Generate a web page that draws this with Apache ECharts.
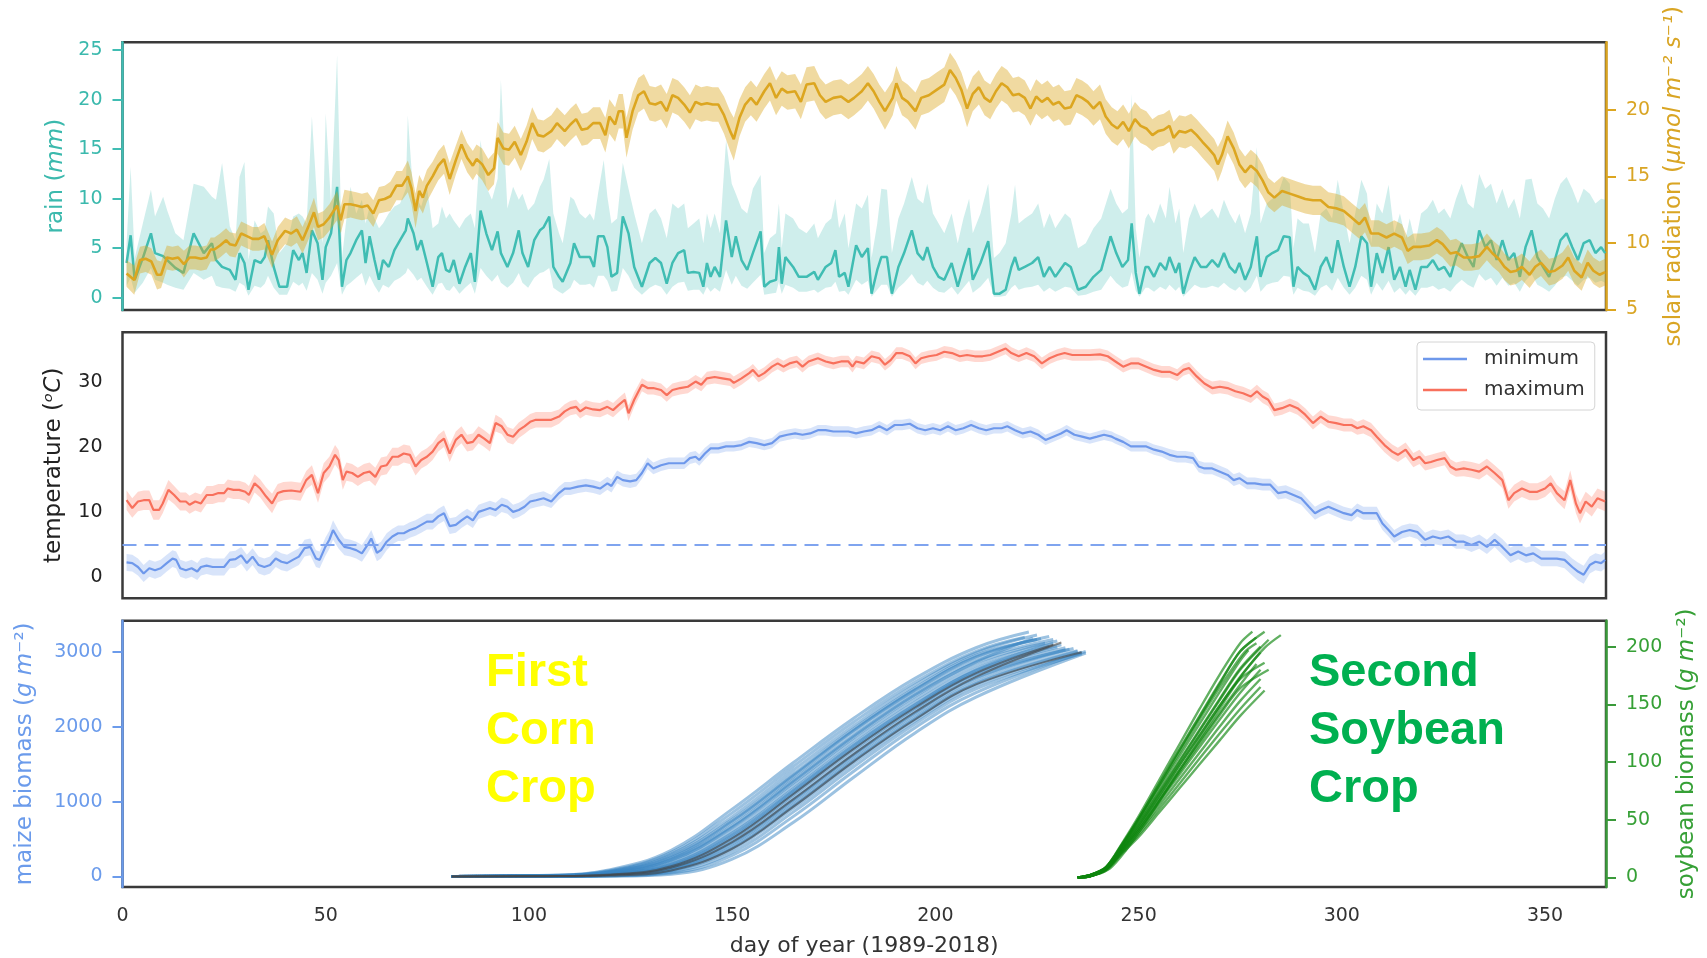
<!DOCTYPE html>
<html><head><meta charset="utf-8">
<script src="https://cdn.jsdelivr.net/npm/echarts/dist/echarts.min.js"></script>
<style>html,body{margin:0;padding:0;background:#fff}#c{width:1707px;height:958px}</style>
</head><body><div id="c"></div>
<script>
// ---------- tick labels ----------
const xTicks = [0, 50, 100, 150, 200, 250, 300, 350];
const rainTicks = [0, 5, 10, 15, 20, 25];
const solarTicks = [5, 10, 15, 20];
const tempTicks = [0, 10, 20, 30];
const maizeTicks = [0, 1000, 2000, 3000];
const soyTicks = [0, 50, 100, 150, 200];
const frostLine = 5;

// ---------- rain: [day, mean, lower, upper] (mm) ----------
const rainData = [
[1,3.5,1.2,5.5],[2,6.3,2.0,13.2],[3,1.8,0.5,4.0],[5,4.0,1.5,7.5],[7,6.5,3.0,10.9],[8,4.5,1.8,8.2],[10,4.2,1.5,10.2],[11,3.8,1.3,8.8],[13,3.0,1.0,6.5],[15,2.5,0.8,5.8],
[17.5,6.5,2.5,11.5],[20,4.5,1.8,11.2],[22,5.5,2.2,10.2],[23,3.8,1.2,9.9],[24.5,3.1,1.0,13.6],[26.4,2.8,0.9,7.2],[27.8,1.8,0.6,5.8],[28.8,4.5,1.5,12.2],[30,3.5,1.2,13.7],[31,0.8,0.2,3.8],
[32.5,3.8,1.2,7.8],[34,3.5,1.0,6.5],[35,4.1,1.4,6.8],[35.8,5.8,2.2,9.2],[37.2,3.1,1.0,8.5],[38.6,1.1,0.3,4.5],[40.5,1.1,0.3,5.5],[42,4.8,1.6,8.2],[43.4,3.8,1.2,8.5],[44.3,4.5,1.5,8.2],
[45.3,2.5,0.7,7.5],[46.6,6.8,2.5,18.3],[48,5.5,1.8,9.0],[49.2,1.8,0.4,5.5],[50,5.1,1.5,18.6],[51.3,6.5,2.2,9.5],[52.8,11.2,3.5,24.5],[54,1.1,0.3,4.0],[55.1,3.8,1.2,8.0],[56.1,4.5,1.5,11.2],
[57.5,5.8,2.0,8.5],[58.9,6.8,2.5,9.9],[59.8,3.5,1.2,7.5],[60.8,6.2,2.2,9.2],[62,3.8,1.2,8.0],[63.1,1.8,0.5,7.0],[64.1,3.8,1.3,7.5],[65.5,3.1,1.0,8.5],[66.9,4.8,1.7,9.2],[68.3,5.8,2.0,9.5],
[69.7,6.8,2.5,11.0],[70.2,8.0,3.0,18.4],[71.6,6.5,2.3,10.0],[72.5,4.8,1.7,9.9],[73.5,5.8,2.0,9.2],[74.9,3.5,1.1,11.2],[76.3,1.1,0.3,7.0],[77.7,4.1,1.4,7.5],[78.6,4.5,1.5,9.2],[79.6,2.8,0.8,8.0],
[80.5,2.6,0.7,8.5],[81.5,3.8,1.2,7.8],[82.9,1.4,0.4,7.0],[84.3,3.1,1.0,8.0],[85.7,4.5,1.5,8.5],[86.7,1.6,0.4,7.0],[88.1,8.8,3.0,15.9],[89.5,6.5,2.2,11.2],[90.9,4.8,1.6,9.9],[92.3,6.7,2.3,12.0],
[93.1,4.5,1.5,22.0],[94.7,3.1,1.0,9.0],[96.1,4.5,1.5,11.2],[97.5,6.8,2.5,9.9],[98.4,4.5,1.5,10.5],[99.8,3.1,1.0,8.8],[101.3,5.8,2.0,9.5],[102.7,6.8,2.5,11.2],[103.6,7.1,2.6,11.9],[105.0,8.2,3.0,14.0],
[106.0,3.1,1.0,8.5],[107.4,2.1,0.6,6.5],[108.3,1.6,0.4,5.5],[110.2,3.5,1.0,10.2],[111.1,5.5,1.8,9.9],[112.5,4.1,1.3,8.5],[113.9,4.1,1.3,8.0],[115.0,4.1,1.4,8.5],[116.0,3.1,1.0,7.8],[117.0,6.2,2.2,10.5],
[118.4,6.2,2.2,13.9],[119.3,5.1,1.7,10.2],[120.3,2.1,0.6,7.5],[121.7,2.5,0.7,8.0],[123.1,8.2,3.0,13.6],[124.5,6.5,2.2,11.0],[125.9,3.1,1.0,8.5],[127.8,1.1,0.3,5.5],[129.7,3.5,1.0,8.5],[131.1,4.0,1.3,9.0],
[132.5,3.5,1.1,8.0],[133.9,1.4,0.3,6.0],[135.3,3.5,1.1,9.5],[136.7,4.5,1.5,9.0],[138.2,4.8,1.6,9.5],[139.1,2.5,0.7,7.0],[140.5,2.6,0.8,7.5],[141.9,2.5,0.8,8.0],[142.9,1.1,0.3,5.5],[143.8,3.5,1.1,8.5],
[144.7,2.1,0.6,7.0],[145.7,3.1,1.0,8.5],[147.0,2.1,0.6,6.5],[148.5,7.8,2.8,15.9],[149.9,4.1,1.3,11.5],[150.9,6.2,2.2,10.5],[152.3,3.8,1.2,9.0],[153.7,2.8,0.9,8.5],[155.1,4.5,1.5,11.0],[157.0,6.7,2.3,12.4],
[157.9,1.1,0.3,4.5],[159.3,1.6,0.4,6.0],[160.8,1.8,0.5,6.5],[161.5,5.1,1.6,9.5],[162.2,1.4,0.4,5.0],[163.1,4.1,1.3,8.5],[165,3.1,1.0,8.0],[166.4,2.1,0.6,7.0],[168.3,2.1,0.6,6.5],[170.2,2.6,0.8,7.5],
[171.1,1.8,0.5,6.0],[173.0,3.1,1.0,7.5],[174.4,3.5,1.1,8.0],[175.4,4.8,1.6,10.0],[176.3,2.1,0.6,7.0],[177.7,2.5,0.7,8.5],[178.6,1.1,0.3,5.0],[180.5,5.3,1.8,9.5],[181.9,4.1,1.3,9.0],[183.4,5.0,1.7,10.4],
[184.3,0.4,0.1,4.0],[185.7,2.8,0.8,7.5],[186.7,4.1,1.3,11.0],[188.1,4.1,1.3,10.9],[189.3,0.4,0.1,4.5],[190.9,3.1,1.0,8.0],[192.3,4.5,1.5,9.5],[194.2,6.8,2.4,12.2],[195.6,4.5,1.5,10.0],[197.0,3.8,1.2,9.5],
[198.0,5.1,1.7,11.5],[199.4,3.1,1.0,8.5],[200.8,2.1,0.6,7.5],[202.2,1.8,0.5,6.5],[204.0,3.5,1.1,8.5],[205.5,1.1,0.3,5.5],[206.9,3.1,1.0,8.0],[208.3,5.0,1.7,10.0],[209.2,1.8,0.5,6.5],[211.1,3.5,1.1,8.5],
[213.0,5.7,2.0,11.5],[214.4,0.4,0.1,4.0],[215.8,0.4,0.1,4.5],[217.3,0.8,0.2,5.5],[218.7,3.1,1.0,8.5],[219.6,4.1,1.3,11.4],[220.5,2.8,0.8,7.5],[222.0,3.1,1.0,8.0],[223.8,3.5,1.1,8.5],[225.3,4.1,1.3,9.5],
[226.7,2.1,0.6,7.0],[228.1,3.1,1.0,8.5],[229.5,2.1,0.6,7.0],[231.9,3.5,1.1,8.5],[233.3,3.1,1.0,8.0],[235.1,0.8,0.2,5.0],[237.0,1.1,0.3,5.5],[238.9,2.1,0.6,7.0],[240.8,2.8,0.8,8.0],[243.1,6.2,2.2,11.0],
[244.5,4.5,1.5,9.5],[246.0,3.1,1.0,8.5],[247.4,3.8,1.2,9.0],[248.3,7.5,2.6,20.6],[249.3,2.5,0.7,7.0],[250.2,0.4,0.1,4.0],[251.7,3.1,1.0,8.0],[252.4,3.1,1.0,8.5],[253.8,2.1,0.6,7.5],[255.3,3.5,1.1,9.5],
[256.7,2.8,0.8,8.0],[257.6,4.1,1.3,11.2],[259.1,2.5,0.7,7.5],[260.0,3.5,1.1,9.0],[261.0,0.4,0.1,4.5],[262.4,2.5,0.7,8.0],[263.8,4.1,1.3,9.5],[265.3,3.1,1.0,8.0],[266.7,3.1,1.0,8.5],[268.1,3.8,1.2,9.0],
[269.6,3.1,1.0,8.0],[271.0,4.5,1.5,9.9],[272.4,3.1,1.0,8.5],[273.8,2.5,0.7,7.5],[274.8,3.5,1.1,8.5],[276.2,1.8,0.5,6.5],[277.6,3.1,1.0,8.5],[279.1,6.2,2.2,15.2],[280.0,2.1,0.6,7.5],[281.5,4.1,1.3,9.5],
[282.9,4.5,1.5,10.0],[284.3,4.8,1.6,10.5],[285.7,6.2,2.2,12.2],[287.2,6.1,2.1,11.5],[288.1,1.1,0.3,5.0],[289.1,3.1,1.0,8.0],[290.5,2.5,0.7,7.5],[291.9,2.1,0.6,7.5],[293.4,0.8,0.2,4.5],[294.8,3.1,1.0,8.5],
[296.2,4.1,1.3,9.0],[297.6,2.5,0.7,8.0],[299.0,5.8,2.0,11.9],[300.5,3.1,1.0,8.5],[301.9,1.1,0.3,5.5],[303.3,3.1,1.0,8.5],[304.8,6.2,2.2,11.9],[306.2,5.5,1.8,10.5],[307.2,1.1,0.3,5.5],[308.6,4.5,1.5,9.5],
[310.0,2.5,0.7,8.5],[311.5,5.1,1.7,11.4],[312.9,1.8,0.5,6.5],[314.3,3.1,1.0,8.5],[315.7,1.1,0.3,6.0],[316.7,2.8,0.8,8.0],[318.1,0.8,0.2,5.5],[319.5,3.1,1.0,8.5],[321.0,3.1,1.0,9.0],[322.4,3.8,1.2,9.9],
[323.8,2.8,0.8,8.5],[325.2,3.1,1.0,9.0],[326.7,2.1,0.6,8.0],[328.1,4.1,1.3,10.0],[329.5,5.5,1.8,11.5],[331.0,4.1,1.3,9.5],[332.4,3.1,1.0,9.0],[333.8,6.8,2.4,12.5],[335.3,5.1,1.7,11.0],[336.7,5.8,2.0,11.5],
[338.1,3.8,1.2,9.5],[339.5,5.8,2.0,11.0],[341.0,3.8,1.2,9.0],[342.4,4.5,1.5,10.0],[343.8,2.1,0.6,8.0],[345.2,5.1,1.7,11.9],[346.7,6.8,2.4,12.0],[348.1,4.1,1.3,9.5],[349.5,3.1,1.0,9.0],[351.0,2.1,0.6,8.0],
[352.4,3.8,1.2,10.0],[353.8,5.8,2.0,11.5],[355.3,6.5,2.2,12.2],[356.7,5.1,1.7,11.0],[358.1,3.8,1.2,9.5],[359.5,5.5,1.8,11.0],[361.0,5.8,2.0,10.5],[362.4,4.5,1.5,9.5],[363.8,5.1,1.7,10.0],[364.8,4.5,1.5,9.9]
];

// ---------- solar radiation: [day, mean, half band width] ----------
const solarData = [
[1,7.7,1.0],[2.9,7.2,1.1],[4.3,8.7,1.0],[5.7,8.8,1.0],[7.1,8.6,1.0],[8.5,7.6,1.1],[9.5,7.6,1.0],[10.9,8.9,0.9],[12.3,8.8,0.9],[13.7,8.9,0.9],
[15.1,8.4,1.0],[16.5,8.9,0.9],[17.9,8.9,0.9],[19.3,8.8,0.9],[20.7,8.9,0.9],[21.7,9.5,0.9],[22.6,9.5,0.9],[24.0,9.8,0.9],[25.5,10.2,0.9],[26.4,9.9,0.9],
[27.8,9.8,0.9],[29.2,10.7,0.9],[30.6,10.5,0.9],[32.0,10.3,0.9],[33.5,10.3,0.9],[34.9,10.5,1.0],[36.8,9.1,1.0],[38.2,10.2,1.0],[40.0,10.9,1.0],[41.5,10.7,1.0],
[42.9,11.0,1.0],[44.3,10.2,1.0],[45.7,11.2,1.0],[47.1,12.3,1.1],[48.1,11.2,1.0],[49.5,11.4,1.0],[50.9,11.9,1.0],[52.8,12.8,1.1],[53.7,11.7,1.0],[54.6,12.9,1.1],
[56.1,12.9,1.0],[57.5,12.8,1.0],[58.9,12.7,1.0],[60.3,12.8,1.0],[61.7,12.2,1.0],[63.1,13.2,1.0],[64.5,13.3,1.0],[65.9,13.5,1.1],[67.4,14.3,1.1],[68.8,14.3,1.1],
[70.2,15.0,1.2],[71.1,14.1,1.2],[72.1,12.4,1.3],[73.0,13.9,1.2],[73.9,13.4,1.2],[74.9,14.3,1.2],[76.3,15.0,1.1],[77.7,15.8,1.1],[79.1,16.3,1.1],[80.5,14.8,1.2],
[82.0,16.2,1.1],[83.4,17.4,1.1],[84.8,16.4,1.1],[86.2,15.8,1.1],[87.1,16.3,1.1],[88.5,15.9,1.2],[90.0,15.1,1.2],[91.4,15.6,1.2],[92.3,17.9,1.2],[93.7,17.1,1.2],
[95.1,17.0,1.2],[96.5,17.6,1.2],[98.0,16.6,1.2],[99.4,17.6,1.2],[100.8,19.0,1.2],[102.2,18.1,1.2],[103.6,18.0,1.2],[105.5,18.4,1.2],[106.9,19.0,1.2],[108.8,18.4,1.2],
[110.2,18.9,1.2],[111.6,19.3,1.2],[113.0,18.5,1.2],[114.4,18.6,1.2],[115.8,19.0,1.2],[117.5,19.0,1.2],[118.8,18.1,1.3],[119.8,19.5,1.3],[121.2,18.9,1.3],[122.1,19.9,1.3],
[123.1,19.9,1.3],[124.0,17.9,1.5],[125.5,19.9,1.4],[126.9,21.1,1.3],[128.3,21.4,1.3],[129.7,20.5,1.3],[131.1,20.4,1.3],[132.5,20.6,1.3],[133.9,19.9,1.3],[135.3,21.1,1.3],
[136.7,20.9,1.3],[138.2,20.4,1.3],[139.6,19.8,1.3],[141.0,20.6,1.3],[142.4,20.4,1.3],[143.8,20.5,1.3],[145.2,20.4,1.3],[146.6,20.4,1.3],[148.0,19.6,1.4],[149.5,18.4,1.5],
[150.4,17.8,1.6],[151.8,19.4,1.4],[153.2,20.4,1.3],[154.6,20.9,1.3],[156.0,20.4,1.3],[157.9,21.4,1.3],[159.3,22.0,1.3],[160.8,20.9,1.3],[162.2,21.6,1.3],[163.6,21.3,1.3],
[165.5,21.4,1.3],[166.9,20.6,1.3],[168.3,21.9,1.3],[170.2,22.0,1.3],[171.6,21.1,1.3],[173.0,20.6,1.3],[174.9,20.9,1.3],[176.8,21.0,1.3],[178.6,20.6,1.3],[180.0,20.9,1.3],
[181.9,21.4,1.3],[183.4,22.0,1.3],[184.8,21.4,1.3],[186.2,20.6,1.3],[187.6,19.9,1.4],[189.5,20.9,1.3],[190.4,22.0,1.3],[191.8,20.9,1.3],[193.2,20.6,1.3],[195.1,19.9,1.4],
[196.5,20.9,1.3],[198.4,21.1,1.3],[200.3,21.5,1.3],[202.2,21.9,1.3],[203.6,23.0,1.3],[205.0,22.4,1.3],[206.4,21.5,1.3],[207.8,20.1,1.4],[209.2,21.2,1.3],[210.7,21.7,1.3],
[212.1,20.9,1.3],[213.5,20.6,1.3],[214.9,21.4,1.3],[216.3,22.0,1.3],[217.7,21.7,1.3],[219.1,21.1,1.3],[220.5,21.2,1.3],[222.0,20.9,1.3],[223.4,20.1,1.3],[224.8,21.0,1.3],
[226.2,20.6,1.3],[227.6,20.9,1.3],[229.0,20.4,1.3],[230.4,20.6,1.3],[231.8,20.1,1.3],[233.3,20.2,1.3],[234.7,21.1,1.3],[236.1,20.9,1.3],[237.5,20.6,1.3],[238.9,20.1,1.3],
[240.5,20.6,1.3],[241.9,19.5,1.3],[243.4,18.9,1.3],[244.8,18.6,1.3],[246.2,19.1,1.3],[247.6,18.4,1.3],[249.1,19.3,1.3],[250.5,18.8,1.3],[251.9,18.6,1.3],[253.4,18.1,1.2],
[254.8,18.4,1.2],[256.2,18.5,1.2],[257.6,18.8,1.2],[258.6,17.9,1.2],[260.0,18.4,1.2],[261.5,18.3,1.2],[262.9,18.5,1.2],[264.3,18.1,1.2],[265.7,17.6,1.2],[267.2,17.1,1.2],
[268.6,16.6,1.2],[269.5,15.9,1.3],[270.5,16.6,1.2],[271.9,18.0,1.2],[273.4,17.1,1.2],[274.8,15.9,1.2],[276.2,15.3,1.2],[277.6,15.8,1.2],[279.1,15.4,1.2],[280.5,14.7,1.2],
[281.9,13.8,1.1],[283.4,13.4,1.1],[285.3,13.9,1.1],[287.2,13.7,1.1],[289.1,13.5,1.1],[291.0,13.3,1.1],[292.9,13.2,1.1],[294.8,13.2,1.1],[296.7,12.7,1.1],[298.6,12.6,1.1],
[300.5,12.4,1.1],[302.4,11.9,1.1],[304.3,11.4,1.1],[305.7,11.9,1.1],[307.2,10.7,1.0],[309.1,10.7,1.0],[311.0,10.4,1.0],[312.9,10.7,1.0],[314.8,10.4,1.0],[316.2,9.4,1.0],
[317.6,9.7,1.0],[319.5,9.7,1.0],[321.5,9.8,1.0],[323.4,10.2,1.0],[324.8,9.9,1.0],[326.7,9.2,1.0],[328.1,9.3,1.0],[330.0,8.9,1.0],[331.9,8.9,1.0],[333.8,9.0,1.0],
[335.7,9.7,1.0],[337.1,9.2,1.0],[338.6,8.8,1.0],[340.0,8.2,1.0],[341.5,7.8,1.0],[342.9,7.9,1.0],[344.3,8.2,1.0],[346.2,7.6,1.0],[347.6,8.2,1.0],[349.0,8.5,1.0],
[351.0,7.8,1.0],[352.4,7.9,1.0],[354.3,8.3,1.0],[355.7,8.9,1.0],[357.2,7.9,1.0],[359.0,7.4,1.0],[360.5,8.5,1.0],[361.9,7.9,1.0],[363.4,7.6,1.0],[364.8,7.8,1.0]
];

// ---------- maximum temperature: [day, mean, half band width] ----------
const tmaxData = [
[1,11.8,1.5],[2.4,10.6,1.5],[3.8,11.6,1.5],[5.2,11.8,1.5],[6.6,11.8,1.5],[7.6,10.3,1.5],[9.0,10.3,1.5],[9.9,11.3,1.5],[11.3,13.4,1.5],[12.7,12.6,1.4],
[14.2,11.6,1.4],[15.6,11.6,1.4],[16.5,11.1,1.4],[17.9,11.6,1.4],[19.3,11.3,1.4],[20.7,12.6,1.4],[22.2,12.6,1.4],[23.6,12.9,1.4],[25.0,12.9,1.4],[25.9,13.6,1.4],
[27.3,13.4,1.4],[28.7,13.4,1.4],[30.2,13.1,1.4],[31.1,12.6,1.4],[32.5,14.4,1.4],[33.9,13.6,1.4],[35.3,12.4,1.4],[36.8,11.3,1.5],[38.2,12.9,1.4],[39.6,13.2,1.4],
[41.5,13.3,1.4],[43.8,13.1,1.4],[45.2,14.9,1.4],[46.6,15.7,1.5],[48.1,12.9,1.5],[49.5,16.0,1.5],[50.9,17.0,1.5],[52.3,18.8,1.5],[53.2,18.0,1.5],[54.2,14.9,1.5],
[55.1,16.2,1.4],[56.5,16.0,1.4],[57.9,15.4,1.4],[59.4,16.0,1.4],[60.8,16.2,1.4],[62.2,15.4,1.4],[63.6,17.0,1.4],[65.0,17.2,1.4],[66.4,18.5,1.4],[67.8,18.5,1.4],
[69.2,19.0,1.4],[70.7,18.8,1.4],[72.1,17.0,1.4],[73.5,18.0,1.3],[74.9,18.5,1.3],[76.3,19.3,1.3],[77.7,20.6,1.3],[79.1,21.3,1.3],[80.5,19.0,1.3],[82.0,21.1,1.3],
[83.4,21.9,1.3],[84.8,20.6,1.3],[86.2,20.8,1.3],[87.6,21.9,1.3],[89.0,21.3,1.3],[90.4,20.6,1.3],[91.8,23.7,1.3],[93.3,23.2,1.2],[94.7,21.9,1.2],[96.1,21.6,1.2],
[97.5,22.6,1.2],[98.9,23.2,1.2],[100.3,23.9,1.2],[101.7,24.2,1.2],[103.6,24.2,1.2],[105.5,24.2,1.2],[107.4,24.7,1.1],[108.8,25.5,1.1],[110.2,26.0,1.1],[111.6,26.2,1.1],
[112.6,25.5,1.1],[114.0,26.1,1.1],[115.8,25.8,1.1],[117.5,25.7,1.1],[119.3,26.2,1.1],[120.7,25.7,1.1],[122.1,26.5,1.1],[123.6,27.3,1.1],[124.5,25.2,1.2],[125.9,27.3,1.1],
[127.8,29.6,1.0],[129.2,29.1,1.0],[130.6,29.1,1.0],[132.5,28.8,1.0],[133.9,28.0,1.0],[135.3,28.8,1.0],[137.2,29.1,1.0],[139.1,29.3,1.0],[141.0,30.1,1.0],[142.4,29.6,1.0],
[143.8,30.6,1.0],[145.7,30.8,1.0],[147.6,30.6,1.0],[149.5,30.4,1.0],[150.4,29.9,1.0],[152.3,30.6,1.0],[154.2,31.4,0.9],[155.1,31.9,0.9],[156.5,30.9,0.9],[157.9,31.4,0.9],
[159.8,32.4,0.9],[161.2,32.9,0.9],[162.6,32.4,0.9],[164.1,32.9,0.9],[165.9,33.2,0.9],[167.3,32.4,0.9],[168.8,33.2,0.9],[171.1,33.7,0.9],[173.0,33.2,0.9],[174.9,32.9,0.9],
[176.8,33.2,0.9],[178.6,33.2,0.9],[179.6,32.4,0.9],[180.5,33.2,0.9],[182.4,32.9,0.9],[184.3,34.0,0.9],[186.2,33.7,0.9],[187.6,32.7,0.9],[189.0,33.4,0.9],[190.4,34.5,0.9],
[191.8,34.5,0.9],[193.7,34.0,0.9],[195.1,32.9,0.9],[196.5,33.7,0.9],[198.4,34.0,0.9],[200.3,34.2,0.9],[202.2,34.7,0.9],[204.1,34.5,0.9],[206.0,34.0,0.9],[207.8,34.2,0.9],
[209.7,34.0,0.9],[211.6,34.0,0.9],[213.5,34.2,0.9],[215.4,34.7,0.9],[217.3,35.2,0.9],[218.7,34.5,0.9],[220.5,34.0,0.9],[222.4,34.5,0.9],[224.3,34.0,0.9],[226.2,32.9,0.9],
[228.1,33.7,0.9],[230.0,34.2,0.9],[231.8,34.5,0.9],[233.7,34.2,0.9],[235.6,34.2,0.9],[238.0,34.2,0.9],[240.5,34.3,0.9],[242.4,34.0,0.9],[244.3,33.2,0.9],[246.2,32.4,0.9],
[248.1,32.9,0.9],[250.0,32.9,0.9],[251.9,32.4,0.9],[253.8,31.9,0.9],[255.7,31.6,0.9],[257.6,31.6,0.9],[259.5,31.1,0.9],[261.0,31.9,0.9],[262.4,32.2,0.9],[264.3,30.9,0.9],
[266.2,29.8,0.9],[268.1,29.1,1.0],[270.0,29.3,1.0],[271.9,29.1,1.0],[273.8,28.6,1.0],[275.7,28.3,1.0],[277.6,27.8,1.0],[279.1,28.6,1.0],[280.5,27.8,1.0],[281.9,27.3,1.0],
[283.4,25.7,1.0],[285.3,26.0,1.0],[287.2,26.5,1.0],[289.1,26.0,1.0],[291.0,25.0,1.0],[292.9,23.7,1.0],[294.8,24.7,1.0],[296.7,23.9,1.0],[298.6,23.7,1.0],[300.5,23.4,1.0],
[302.4,23.4,1.0],[303.8,22.9,1.0],[305.3,23.2,1.1],[307.2,22.6,1.1],[308.6,21.6,1.1],[310.5,20.3,1.1],[312.4,19.3,1.1],[313.8,18.8,1.1],[315.7,19.6,1.1],[317.6,18.0,1.1],
[319.1,18.5,1.1],[320.5,17.5,1.1],[321.9,17.7,1.1],[323.4,18.0,1.1],[325.3,18.3,1.1],[326.7,17.0,1.1],[328.1,16.5,1.1],[330.0,16.7,1.2],[331.9,16.5,1.2],[333.8,16.2,1.2],
[335.7,17.0,1.2],[337.6,16.0,1.2],[339.5,14.9,1.2],[341.0,11.8,1.3],[342.4,12.9,1.3],[344.3,13.6,1.3],[346.2,13.1,1.3],[348.1,13.1,1.3],[350.0,13.6,1.3],[351.4,14.4,1.3],
[352.9,12.9,1.3],[354.8,11.8,1.4],[356.2,14.9,1.5],[357.6,11.3,1.5],[358.6,9.8,1.6],[360.0,11.6,1.5],[361.5,10.8,1.5],[362.9,12.1,1.5],[364.8,11.6,1.5]
];

// ---------- minimum temperature: [day, mean, half band width] ----------
const tminData = [
[1,2.2,1.3],[2.4,2.1,1.3],[3.8,1.5,1.3],[5.2,0.5,1.3],[6.6,1.3,1.3],[8.0,1.0,1.3],[9.4,1.3,1.3],[10.9,2.1,1.3],[12.3,2.8,1.3],[13.2,2.6,1.3],
[14.2,1.3,1.3],[15.6,1.0,1.3],[17.0,1.3,1.3],[18.4,0.8,1.3],[19.3,1.5,1.3],[20.7,1.7,1.3],[22.2,1.5,1.3],[23.6,1.5,1.3],[25.0,1.5,1.3],[26.4,2.6,1.3],
[27.8,2.7,1.3],[29.2,3.3,1.3],[30.6,2.1,1.3],[32.0,3.1,1.3],[33.5,1.8,1.3],[34.9,1.5,1.3],[36.3,1.8,1.3],[37.7,2.8,1.3],[39.1,2.3,1.3],[40.5,2.1,1.3],
[41.9,2.6,1.3],[43.4,3.1,1.3],[44.8,4.4,1.3],[46.2,4.6,1.3],[47.6,2.8,1.3],[48.5,2.6,1.3],[49.9,4.6,1.4],[50.9,5.7,1.4],[51.8,7.2,1.5],[53.2,5.7,1.4],
[54.6,4.6,1.3],[56.1,4.4,1.3],[57.5,4.1,1.3],[58.9,3.6,1.3],[60.3,4.9,1.3],[61.2,5.9,1.3],[62.6,3.7,1.3],[63.6,4.1,1.3],[65.0,5.4,1.3],[66.4,6.2,1.2],
[67.8,6.7,1.2],[69.2,6.7,1.2],[70.7,7.2,1.2],[72.1,7.5,1.2],[73.5,8.0,1.2],[74.9,8.5,1.2],[76.3,8.5,1.2],[77.7,9.3,1.2],[79.1,9.8,1.2],[80.5,7.8,1.2],
[82.0,8.0,1.2],[83.4,8.7,1.2],[84.8,9.3,1.2],[86.2,8.7,1.2],[87.6,10.0,1.1],[89.0,10.3,1.1],[90.4,10.6,1.1],[91.8,10.3,1.1],[93.3,11.1,1.1],[94.7,10.8,1.1],
[96.1,10.0,1.1],[97.5,10.3,1.1],[98.9,10.8,1.1],[100.3,11.6,1.1],[101.7,11.8,1.1],[103.6,12.1,1.1],[105.5,11.6,1.0],[107.4,12.9,1.0],[108.8,13.6,1.0],[110.2,13.6,1.0],
[112.1,13.9,1.0],[114.0,14.1,1.0],[115.8,13.9,1.0],[117.5,13.6,1.0],[119.3,14.4,1.0],[120.3,14.0,1.0],[121.7,15.4,1.0],[123.1,14.9,1.0],[124.9,14.7,1.0],[126.4,14.9,1.0],
[127.8,16.0,0.9],[129.2,17.5,0.9],[130.6,16.7,0.9],[132.5,17.2,0.9],[134.4,17.5,0.9],[136.3,17.5,0.9],[138.2,17.5,0.9],[139.6,18.3,0.9],[141.0,18.5,0.9],[141.9,18.0,0.9],
[143.3,19.0,0.9],[144.7,19.8,0.8],[146.6,19.8,0.8],[148.5,20.1,0.8],[150.4,20.1,0.8],[152.3,20.3,0.8],[154.2,20.8,0.8],[156.0,20.6,0.8],[157.9,20.3,0.8],[159.8,20.6,0.8],
[161.7,21.6,0.8],[163.6,21.9,0.8],[165.5,22.1,0.8],[167.3,21.9,0.8],[169.2,22.1,0.8],[171.1,22.6,0.8],[173.0,22.6,0.8],[174.9,22.4,0.8],[176.8,22.4,0.8],[178.6,22.4,0.8],
[180.5,22.1,0.8],[182.4,22.4,0.8],[184.3,22.6,0.8],[186.2,23.2,0.8],[188.1,22.6,0.8],[190.0,23.4,0.8],[191.8,23.4,0.8],[193.7,23.6,0.8],[195.6,22.9,0.8],[197.5,22.6,0.8],
[199.4,22.9,0.8],[201.2,22.6,0.8],[203.1,23.2,0.8],[205.0,22.6,0.8],[206.9,22.9,0.8],[208.8,23.4,0.8],[210.7,22.9,0.8],[212.5,22.6,0.8],[214.4,22.9,0.8],[216.3,22.9,0.8],
[217.7,23.2,0.8],[219.6,22.6,0.8],[221.5,22.1,0.8],[223.4,22.4,0.8],[225.3,21.9,0.8],[227.1,21.1,0.8],[229.0,21.6,0.8],[230.9,22.1,0.8],[232.3,22.6,0.8],[234.2,21.9,0.8],
[236.1,21.6,0.8],[238.0,21.3,0.8],[239.8,21.6,0.8],[241.5,21.9,0.8],[243.4,21.6,0.8],[244.3,21.3,0.8],[246.2,20.8,0.8],[248.1,20.1,0.8],[250.0,20.1,0.8],[251.9,20.1,0.8],
[253.8,19.6,0.8],[255.7,19.3,0.8],[257.6,18.8,0.9],[259.5,18.5,0.9],[261.5,18.5,0.9],[263.4,18.3,0.9],[264.8,17.0,0.9],[266.2,16.7,0.9],[268.1,16.7,0.9],[270.0,16.2,0.9],
[271.9,15.7,0.9],[273.4,14.9,0.9],[274.8,15.2,0.9],[276.7,14.4,0.9],[278.6,14.4,0.9],[280.5,14.2,0.9],[282.4,14.2,0.9],[284.3,12.9,1.0],[286.2,13.1,1.0],[288.1,12.6,1.0],
[290.0,12.1,1.0],[291.9,10.8,1.0],[293.4,9.8,1.0],[294.8,10.3,1.0],[296.7,10.8,1.0],[298.6,10.3,1.0],[300.5,9.8,1.0],[302.4,9.5,1.0],[303.8,10.3,1.0],[305.3,9.8,1.0],
[307.2,9.8,1.0],[308.6,9.8,1.0],[310.0,8.2,1.0],[311.5,7.2,1.0],[312.9,6.2,1.0],[314.8,6.9,1.0],[316.7,7.2,1.0],[318.6,6.9,1.1],[320.5,5.7,1.1],[322.4,6.2,1.1],
[324.3,5.9,1.1],[326.2,6.2,1.1],[328.1,5.4,1.1],[330.0,5.4,1.1],[331.9,4.9,1.1],[333.8,5.4,1.1],[335.7,4.6,1.1],[337.6,5.7,1.1],[339.5,4.6,1.2],[341.5,3.3,1.2],
[343.4,3.9,1.2],[345.3,3.3,1.2],[347.1,3.6,1.2],[349.1,2.8,1.2],[351.0,2.8,1.2],[352.9,2.8,1.2],[354.8,2.6,1.3],[356.7,1.5,1.3],[358.1,0.8,1.4],[359.5,0.3,1.4],
[361.0,1.8,1.3],[362.4,2.3,1.3],[363.8,2.1,1.3],[364.8,2.6,1.3]
];

// ---------- maize biomass curves (g m-2), one per season ----------
const maizeCurves = [
[[81,0],[105,15],[120,90],[135,350],[150,900],[165,1520],[180,2120],[195,2650],[210,3060],[223,3270]],
[[81,0],[105,12],[120,80],[135,320],[150,850],[165,1470],[180,2070],[195,2600],[210,3010],[222,3200]],
[[81,0],[105,10],[120,70],[135,300],[150,800],[165,1420],[180,2020],[195,2560],[210,2990],[225,3230]],
[[81,0],[105,10],[120,65],[135,280],[150,760],[165,1370],[180,1980],[195,2520],[210,2960],[226,3180]],
[[81,0],[105,8],[120,55],[135,250],[150,720],[165,1330],[180,1950],[195,2490],[210,2930],[228,3210]],
[[81,0],[105,8],[120,50],[135,230],[150,680],[165,1290],[180,1900],[195,2450],[210,2890],[229,3170]],
[[81,0],[105,6],[120,45],[135,210],[150,650],[165,1250],[180,1860],[195,2410],[210,2860],[227,3120]],
[[81,0],[105,6],[120,40],[135,190],[150,610],[165,1210],[180,1820],[195,2370],[210,2820],[230,3150]],
[[81,0],[105,5],[120,35],[135,170],[150,580],[165,1170],[180,1780],[195,2330],[210,2780],[228,3080]],
[[81,0],[105,5],[120,30],[135,150],[150,540],[165,1130],[180,1740],[195,2290],[210,2750],[231,3100]],
[[81,0],[105,4],[120,25],[135,130],[150,500],[165,1090],[180,1700],[195,2250],[210,2710],[232,3060]],
[[81,0],[105,4],[120,22],[135,120],[150,470],[165,1050],[180,1660],[195,2220],[210,2690],[233,3040]],
[[81,0],[105,3],[120,18],[135,100],[150,430],[165,1000],[180,1610],[195,2170],[210,2640],[234,3050]],
[[81,0],[105,3],[120,15],[135,90],[150,400],[165,960],[180,1570],[195,2130],[210,2600],[235,3020]],
[[81,0],[105,2],[120,12],[135,75],[150,360],[165,910],[180,1520],[195,2080],[210,2550],[236,3000]],
[[81,0],[105,2],[120,10],[135,60],[150,320],[165,860],[180,1470],[195,2040],[210,2510],[236,2980]],
[[81,0],[105,1],[120,6],[135,45],[150,280],[165,800],[180,1410],[195,1990],[210,2460],[237,3010]],
[[81,0],[105,0],[120,3],[135,30],[150,230],[165,720],[180,1330],[195,1920],[210,2400],[237,2990]],
[[81,0],[105,7],[120,48],[135,220],[150,660],[165,1270],[180,1880],[195,2430],[210,2870],[224,3190]],
[[81,0],[105,5],[120,32],[135,160],[150,560],[165,1150],[180,1760],[195,2300],[210,2760],[229,3120]],
[[81,0],[105,4],[120,28],[135,140],[150,520],[165,1110],[180,1720],[195,2270],[210,2730],[230,3070]],
[[81,0],[105,9],[120,60],[135,260],[150,740],[165,1350],[180,1960],[195,2500],[210,2940],[225,3170]],
[[81,0],[105,3],[120,20],[135,110],[150,450],[165,1020],[180,1630],[195,2190],[210,2660],[232,3030]],
[[81,0],[105,2],[120,14],[135,85],[150,380],[165,940],[180,1550],[195,2110],[210,2580],[235,3010]]
];
const maizeDarkCurves = [
[[81,0],[105,3],[120,20],[135,115],[150,460],[165,1030],[180,1640],[195,2200],[210,2670],[231,3130]],
[[81,0],[105,2],[120,12],[135,80],[150,370],[165,930],[180,1540],[195,2100],[210,2570],[236,3000]],
[[81,0],[105,4],[120,26],[135,135],[150,510],[165,1100],[180,1710],[195,2260],[210,2720],[229,3100]]
];

// ---------- soybean biomass curves (g m-2), one per season ----------
const soyCurves = [
[[235,0],[238,2],[242,9],[246,30],[250,53],[255,84],[260,115],[265,146],[270,176],[275,203],[278,213]],
[[235,0],[238,2],[242,9],[246,29],[250,51],[255,81],[260,111],[265,140],[270,169],[275,196],[279,208]],
[[235,0],[238,2],[242,9],[246,28],[250,49],[255,77],[260,105],[265,133],[270,161],[275,188],[277,197]],
[[235,0],[238,2],[242,8],[246,27],[250,47],[255,74],[260,101],[265,128],[270,155],[275,181],[280,200]],
[[235,0],[238,1],[242,8],[246,26],[250,45],[255,71],[260,97],[265,123],[270,149],[275,174],[280,195]],
[[235,0],[238,1],[242,8],[246,25],[250,43],[255,68],[260,93],[265,118],[270,143],[275,167],[279,185]],
[[235,0],[238,1],[242,7],[246,24],[250,41],[255,65],[260,89],[265,113],[270,137],[275,160],[280,180]],
[[235,0],[238,1],[242,7],[246,23],[250,39],[255,62],[260,85],[265,108],[270,131],[275,153],[280,172]],
[[235,0],[238,1],[242,7],[246,22],[250,37],[255,59],[260,81],[265,103],[270,125],[275,146],[280,165]],
[[235,0],[238,1],[242,6],[246,21],[250,35],[255,56],[260,77],[265,98],[270,119],[275,140],[281,162]],
[[235,0],[238,2],[242,9],[246,29],[250,51],[255,80],[260,110],[265,139],[270,168],[275,196],[281,213]],
[[235,0],[238,2],[242,8],[246,26],[250,46],[255,73],[260,100],[265,127],[270,154],[275,180],[282,206]],
[[236,0],[239,2],[243,8],[247,24],[251,44],[256,71],[261,98],[266,125],[271,152],[276,178],[281,199],[285,210]],
[[235,0],[238,1],[242,7],[246,24],[250,43],[255,70],[260,97],[265,123],[270,149],[275,172],[281,186]],
[[235,0],[238,1],[242,7],[246,23],[250,41],[255,66],[260,91],[265,116],[270,141],[275,164],[282,180]],
[[235,0],[238,2],[242,8],[246,28],[250,50],[255,79],[260,108],[265,137],[270,165],[276,195],[279,203]]
];

// ---------- styling ----------
const FONT = '"DejaVu Sans", Verdana, sans-serif';
const C_RAIN = '#40bdb3', C_RAIN_TXT = '#3bb9ad';
const C_SOLAR = '#dca620', C_SOLAR_TXT = '#d9a524';
const C_TMAX = '#f8705c', C_TMIN = '#6e98eb';
const C_MAIZE_TXT = '#6b9beb', C_SOY_TXT = '#36a036';
const FRAME = '#3a3a3a';

const G = [
  {left: 122.5, top: 42.3, width: 1483.5, height: 267.7},
  {left: 122.5, top: 332.3, width: 1483.5, height: 266},
  {left: 122.5, top: 620.7, width: 1483.5, height: 266.6}
];

function band(data, xi, yi, loF, hiF, fill, z) {
  return {
    type: 'custom', xAxisIndex: xi, yAxisIndex: yi, silent: true, clip: true, z: z,
    data: data.map(p => [p[0], p[1]]),
    encode: {x: 0, y: 1},
    renderItem: function (params, api) {
      if (params.dataIndex !== 0) return null;
      const top = [], bot = [];
      for (const p of data) {
        top.push(api.coord([p[0], hiF(p)]));
        bot.push(api.coord([p[0], loF(p)]));
      }
      return {type: 'polygon', shape: {points: top.concat(bot.reverse())}, style: {fill: fill}};
    }
  };
}
function line(data, xi, yi, color, width, z, extra) {
  return Object.assign({
    type: 'line', xAxisIndex: xi, yAxisIndex: yi, data: data.map(p => [p[0], p[1]]),
    symbol: 'none', showSymbol: false, silent: true, z: z,
    lineStyle: {color: color, width: width}, itemStyle: {color: color}
  }, extra || {});
}

const series = [];
series.push(band(rainData, 0, 0, p => p[2], p => p[3], 'rgba(64,189,179,0.25)', 1));
series.push(line(rainData, 0, 0, C_RAIN, 2.5, 2));
series.push(band(solarData, 0, 1, p => p[1] - p[2], p => p[1] + p[2], 'rgba(220,166,32,0.42)', 3));
series.push(line(solarData, 0, 1, C_SOLAR, 2.6, 4));
series.push(band(tminData, 1, 2, p => p[1] - p[2], p => p[1] + p[2], 'rgba(100,149,237,0.25)', 1));
series.push(line(tminData, 1, 2, C_TMIN, 2.2, 2, {
  name: 'minimum',
  markLine: {silent: true, symbol: ['none', 'none'], label: {show: false},
    lineStyle: {color: '#7fa4ef', width: 2, type: [14, 8]}, data: [{yAxis: frostLine}]}
}));
series.push(band(tmaxData, 1, 2, p => p[1] - p[2], p => p[1] + p[2], 'rgba(255,99,71,0.25)', 1));
series.push(line(tmaxData, 1, 2, C_TMAX, 2.2, 2, {name: 'maximum'}));
maizeCurves.forEach(c => series.push(line(c, 2, 3, '#3a86c4', 3, 3, {
  smooth: 0.4, lineStyle: {color: '#3a86c4', width: 3, opacity: 0.5}})));
maizeDarkCurves.forEach(c => series.push(line(c, 2, 3, '#444', 2, 4, {
  smooth: 0.4, lineStyle: {color: '#444444', width: 2, opacity: 0.6}})));
soyCurves.forEach(c => series.push(line(c, 2, 4, '#0e860e', 2.4, 3, {
  smooth: 0.3, lineStyle: {color: '#0e860e', width: 2.4, opacity: 0.65}})));

function xAxis(i, withLabels) {
  return {
    type: 'value', gridIndex: i, min: 0, max: 365,
    axisLine: {show: false}, axisTick: {show: false}, splitLine: {show: false},
    axisLabel: withLabels ? {customValues: xTicks, color: '#333', fontSize: 19, fontFamily: FONT, margin: 20} : {show: false},
    name: withLabels ? 'day of year (1989-2018)' : '',
    nameLocation: 'middle', nameGap: 48,
    nameTextStyle: {color: '#333', fontSize: 22, fontFamily: FONT}
  };
}
function yAxis(o) {
  return {
    type: 'value', gridIndex: o.grid, position: o.pos, min: o.min, max: o.max,
    splitLine: {show: false},
    axisLine: o.line ? {show: true, lineStyle: {color: o.line, width: 2.5}} : {show: false},
    axisTick: o.tick ? {show: true, customValues: o.ticks, length: 10, lineStyle: {color: o.tick, width: 2}} : {show: false},
    axisLabel: {customValues: o.ticks, color: o.color, fontSize: 19, fontFamily: FONT, margin: 20,
      formatter: v => String(v)},
    name: o.name, nameLocation: 'middle', nameRotate: 90, nameGap: o.gap,
    nameTextStyle: {color: o.color, fontSize: 23, fontFamily: FONT,
      rich: {i: {fontStyle: 'italic', color: o.color, fontSize: 23, fontFamily: FONT}}}
  };
}

const option = {
  animation: false,
  backgroundColor: '#ffffff',
  grid: G.map(g => Object.assign({show: true, borderColor: FRAME, borderWidth: 2.5, backgroundColor: 'transparent'}, g)),
  xAxis: [xAxis(0, false), xAxis(1, false), xAxis(2, true)],
  yAxis: [
    yAxis({grid: 0, pos: 'left', min: -1.25, max: 25.8, ticks: rainTicks, color: C_RAIN_TXT, line: C_RAIN, tick: C_RAIN,
      name: 'rain ({i|mm})', gap: 54}),
    yAxis({grid: 0, pos: 'right', min: 4.95, max: 25.08, ticks: solarTicks, color: C_SOLAR_TXT, line: C_SOLAR, tick: C_SOLAR,
      name: 'solar radiation ({i|μmol m⁻² s⁻¹})', gap: 57}),
    yAxis({grid: 1, pos: 'left', min: -3.33, max: 37.7, ticks: tempTicks, color: '#222', line: null, tick: null,
      name: 'temperature ({i|ᵒC})', gap: 57}),
    yAxis({grid: 2, pos: 'left', min: -142, max: 3422, ticks: maizeTicks, color: C_MAIZE_TXT, line: '#6b9beb', tick: '#6b9beb',
      name: 'maize biomass ({i|g m}⁻²)', gap: 86}),
    yAxis({grid: 2, pos: 'right', min: -8.3, max: 222.5, ticks: soyTicks, color: C_SOY_TXT, line: '#3a9a3a', tick: '#3a9a3a',
      name: 'soybean biomass ({i|g m}⁻²)', gap: 70})
  ],
  legend: {
    data: [{name: 'minimum', icon: 'rect'}, {name: 'maximum', icon: 'rect'}],
    orient: 'vertical', left: 1417, top: 342,
    padding: [7, 10, 10, 6], itemGap: 11, itemWidth: 44, itemHeight: 2.5,
    backgroundColor: '#fff', borderColor: '#d4d4d4', borderWidth: 1, borderRadius: 4,
    textStyle: {color: '#333', fontSize: 20, fontFamily: FONT, padding: [0, 0, 0, 12], lineHeight: 20},
    selectedMode: false
  },
  graphic: [
    {type: 'text', left: 486, top: 644, z: 100, silent: true,
      style: {text: 'First\nCorn\nCrop', font: 'bold 47px "Liberation Sans", Arial, sans-serif', fill: '#ffff00', lineHeight: 58}},
    {type: 'text', left: 1309, top: 644, z: 100, silent: true,
      style: {text: 'Second\nSoybean\nCrop', font: 'bold 47px "Liberation Sans", Arial, sans-serif', fill: '#00b050', lineHeight: 58}}
  ],
  series: series
};

const chart = echarts.init(document.getElementById('c'), null, {renderer: 'canvas', width: 1707, height: 958});
chart.setOption(option);
</script></body></html>
